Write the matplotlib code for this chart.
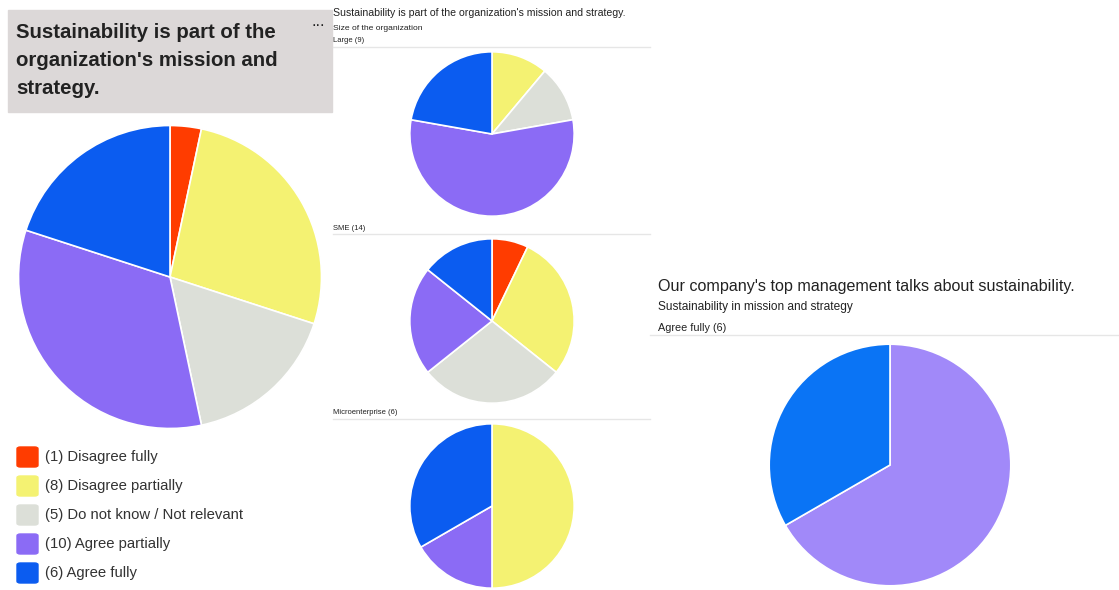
import matplotlib.pyplot as plt
from matplotlib.patches import FancyBboxPatch, Rectangle
from matplotlib.lines import Line2D

plt.rcParams['font.family'] = ['Liberation Sans', 'DejaVu Sans']

# answer categories and colours
answers = ["Disagree fully", "Disagree partially", "Do not know / Not relevant",
           "Agree partially", "Agree fully"]
colors = ["#ff3c00", "#f4f272", "#dcdfd8", "#8b6bf5", "#0b5cf0"]

# all respondents
overall = [1, 8, 5, 10, 6]

# split by size of the organization
sizes = ["Large", "SME", "Microenterprise"]
large = [0, 1, 1, 5, 2]
sme = [1, 4, 4, 3, 2]
micro = [0, 3, 0, 1, 2]

# top management talks about sustainability, among "Agree fully"
mgmt_answers = ["Agree partially", "Agree fully"]
mgmt_counts = [4, 2]
mgmt_colors = ["#a189f9", "#0a74f5"]

W, H = 1119, 590
fig = plt.figure(figsize=(W / 100, H / 100), dpi=100)
TXT = "#222222"


def fx(x):
    return x / W


def fy(y):
    return 1 - y / H


def pie_at(cx, cy, r, vals, cols):
    ax = fig.add_axes([fx(cx - r), fy(cy + r), 2 * r / W, 2 * r / H])
    keep = [(v, c) for v, c in zip(vals, cols) if v > 0]
    ax.pie([v for v, c in keep], colors=[c for v, c in keep], startangle=90,
           counterclock=False, radius=1,
           wedgeprops=dict(edgecolor="white", linewidth=1.2))
    ax.set_xlim(-1.01, 1.01)
    ax.set_ylim(-1.01, 1.01)
    ax.set_aspect("equal")
    ax.axis("off")
    return ax


def hline(x0, x1, y):
    fig.add_artist(Line2D([fx(x0), fx(x1)], [fy(y), fy(y)], color="#e6e6e6", lw=1.0))


# left panel: title box, pie and legend
fig.add_artist(Rectangle((fx(8), fy(112)), fx(324), 102 / H, color="#dcd8d8", zorder=0))
for i, line in enumerate(["Sustainability is part of the",
                          "organization's mission and", "strategy."]):
    fig.text(fx(16), fy(33 + 28 * i), line, fontsize=14.7, fontweight="bold",
             color=TXT, va="center", ha="left")
fig.text(fx(318), fy(22), "...", fontsize=12, color=TXT, va="center", ha="center")

pie_at(170, 277, 153, overall, colors)

for i, (a, n, c) in enumerate(zip(answers, overall, colors)):
    y = 457 + 29 * i
    fig.add_artist(FancyBboxPatch((fx(17), fy(y + 10)), 21 / W, 20 / H,
                                  boxstyle="round,pad=0,rounding_size=0.003",
                                  color=c, transform=fig.transFigure))
    fig.text(fx(45), fy(y), f"({n}) {a}", fontsize=10.7, color="#333333",
             va="center", ha="left")

# middle panel: one pie per organization size
fig.text(fx(333), fy(13), "Sustainability is part of the organization's mission and strategy.",
         fontsize=7.6, color=TXT, va="center", ha="left")
fig.text(fx(333), fy(28), "Size of the organization", fontsize=6.1, color=TXT,
         va="center", ha="left")
for name, vals, top in zip(sizes, [large, sme, micro], [41, 228, 413]):
    fig.text(fx(333), fy(top), f"{name} ({sum(vals)})", fontsize=5.5, color=TXT,
             va="center", ha="left")
    hline(333, 650, top + 6)
    pie_at(492, top + 93, 83, vals, colors)

# right panel
fig.text(fx(658), fy(287), "Our company's top management talks about sustainability.",
         fontsize=11.6, color=TXT, va="center", ha="left")
fig.text(fx(658), fy(307), "Sustainability in mission and strategy", fontsize=8.6,
         color=TXT, va="center", ha="left")
fig.text(fx(658), fy(328), f"Agree fully ({sum(mgmt_counts)})", fontsize=7.8,
         color=TXT, va="center", ha="left")
hline(650, 1119, 335)
pie_at(890, 465, 122, mgmt_counts, mgmt_colors)

fig.savefig("out.png", dpi=100)
